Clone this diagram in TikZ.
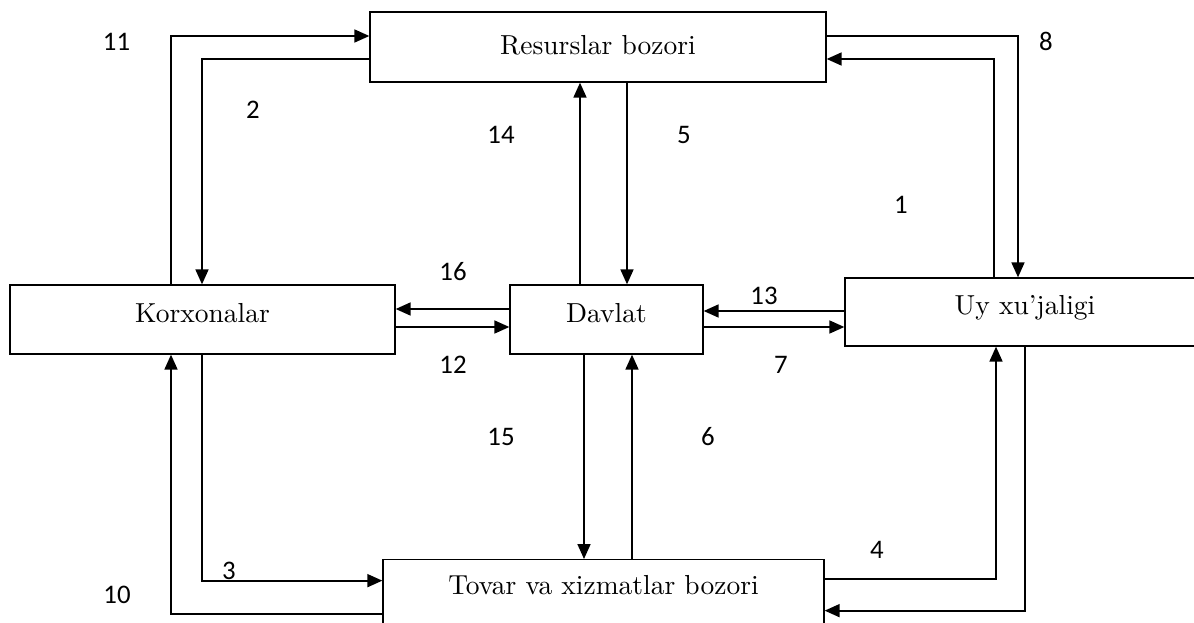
\documentclass[tikz,border=0pt]{standalone}
\usepackage{fontspec}
\newfontfamily\numfont{Carlito}
\newfontfamily\boxfont{lmroman10-regular}[Extension=.otf]
\usetikzlibrary{arrows.meta}
\begin{document}
\begin{tikzpicture}[x=1pt,y=-1pt,
  box/.style={draw,line width=1.3pt,inner xsep=0pt,inner ysep=0pt,
    font=\boxfont\fontsize{27.5}{33}\selectfont},
  arr/.style={line width=1.7pt,-{Triangle[length=15pt,width=13pt]}},
  num/.style={inner sep=0pt,font=\numfont\fontsize{26.8}{32}\selectfont}]
\clip (0,0) rectangle (1194,623);
\fill[white] (0,0) rectangle (1194,623);
% boxes
\node[box,minimum width=456pt,text height=43pt,text depth=27pt] (res) at (598,47) {Resurslar bozori};
\node[box,minimum width=385pt,text height=37pt,text depth=32pt] (kor) at (202.5,319.5) {Korxonalar};
\node[box,minimum width=193pt,text height=37pt,text depth=32pt] (dav) at (606.5,319.5) {Davlat};
\node[box,minimum width=360pt,text height=36pt,text depth=32pt] (uy) at (1025,312) {Uy xu’jaligi};
\node[box,minimum width=441pt,text height=35pt,text depth=50pt,anchor=north] (tov) at (603.5,559) {Tovar va xizmatlar bozori};
% connectors
\draw[arr] ([xshift=-31.5pt]kor.north) |- ([yshift=11pt]res.west);
\draw[arr] ([yshift=-12pt]res.west) -| ([xshift=-0.5pt]kor.north);
\draw[arr] ([yshift=11pt]res.east) -| ([xshift=-7pt]uy.north);
\draw[arr] ([xshift=-31pt]uy.north) |- ([yshift=-12pt]res.east);
\draw[arr] ([xshift=-26.5pt]dav.north) -- ([xshift=-26.5pt]dav.north |- res.south);
\draw[arr] ([xshift=20.5pt]dav.north |- res.south) -- ([xshift=20.5pt]dav.north);
\draw[arr] ([xshift=-22.5pt]dav.south) -- ([xshift=-22.5pt]dav.south |- tov.north);
\draw[arr] ([xshift=25.5pt]dav.south |- tov.north) -- ([xshift=25.5pt]dav.south);
\draw[arr] ([yshift=10.5pt]dav.west) -- ([yshift=10.5pt]dav.west -| kor.east);
\draw[arr] ([yshift=-7.5pt]dav.west -| kor.east) -- ([yshift=-7.5pt]dav.west);
\draw[arr] ([yshift=8.5pt]dav.east -| uy.west) -- ([yshift=8.5pt]dav.east);
\draw[arr] ([yshift=-7.5pt]dav.east) -- ([yshift=-7.5pt]dav.east -| uy.west);
\draw[arr] ([xshift=-0.5pt]kor.south) |- ([yshift=21.5pt]tov.west);
\draw[arr] ([yshift=-11.5pt]tov.west) -| ([xshift=-31.5pt]kor.south);
\draw[arr] ([yshift=23.5pt]tov.east) -| ([xshift=-29pt]uy.south);
\draw[arr] (uy.south) |- ([yshift=-8.5pt]tov.east);
% labels
\node[num] (n11) at (116.5,41.5) {11};
\node[num] (n8) at (1046,41.5) {8};
\node[num] (n2) at (253,110) {2};
\node[num] (n14) at (501,135) {14};
\node[num] (n5) at (684,135) {5};
\node[num] (n1) at (901,205) {1};
\node[num] (n16) at (453,272) {16};
\node[num] (n13) at (764,295.5) {13};
\node[num] (n12) at (453,365) {12};
\node[num] (n7) at (781,364.5) {7};
\node[num] (n15) at (501,437) {15};
\node[num] (n6) at (708,437) {6};
\node[num] (n4) at (877,550) {4};
\node[num] (n3) at (229,571) {3};
\node[num] (n10) at (117,594.5) {10};
\end{tikzpicture}
\end{document}
